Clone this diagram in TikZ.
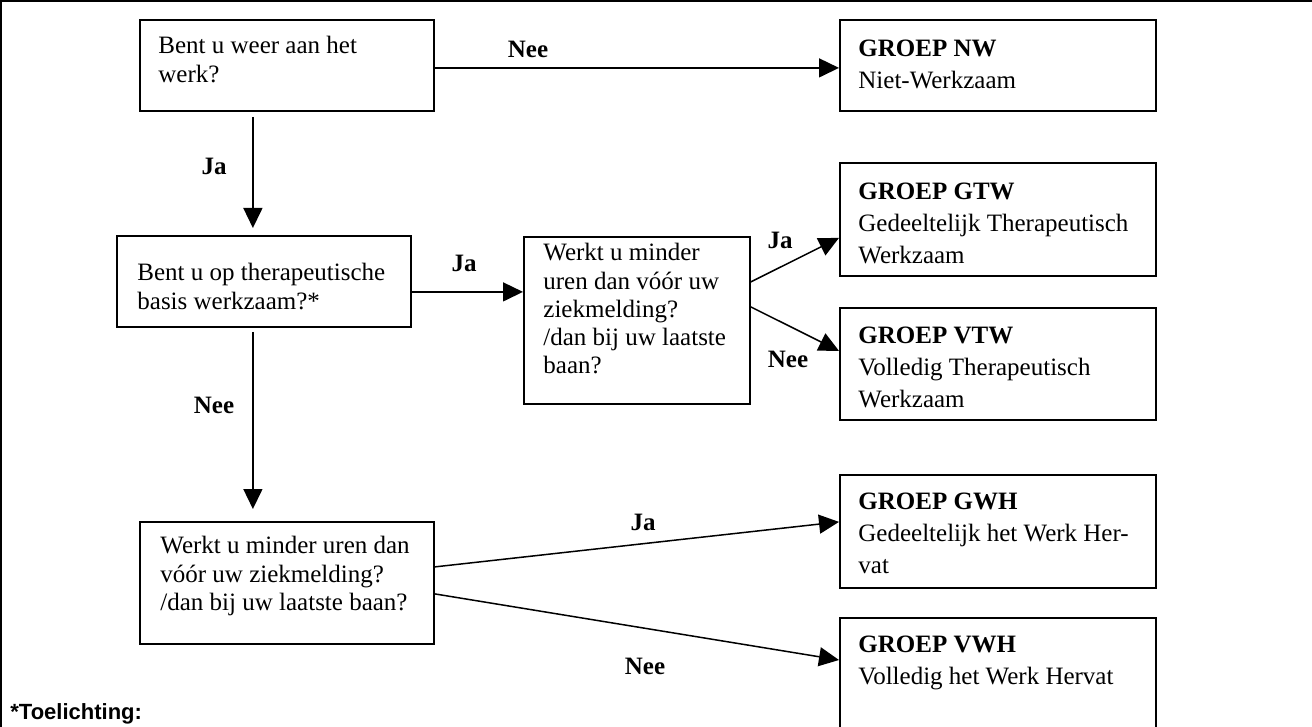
\documentclass[tikz,border=0pt]{standalone}
\usepackage{fontspec}
\setmainfont{Liberation Serif}
\newfontfamily\arialfont{Liberation Sans}
\usetikzlibrary{arrows.meta}
\begin{document}
\begin{tikzpicture}[x=0.5pt,y=-0.5pt,
  box/.style={draw, line width=0.9pt, anchor=north west, inner sep=0pt},
  ltxt/.style={anchor=north west, inner sep=0pt, align=left, font=\fontsize{12.5pt}{14.15pt}\selectfont},
  rtxt/.style={anchor=north west, inner sep=0pt, align=left, font=\fontsize{12.5pt}{15.9pt}\selectfont},
  lbl/.style={inner sep=0pt, font=\fontsize{12.5pt}{14pt}\selectfont\bfseries},
  arr/.style={-{Triangle[length=10pt,width=9.5pt]}, line width=0.75pt}]
\useasboundingbox (0,0) rectangle (1312,727);
\clip (0,0) rectangle (1312,727);
% outer frame (top and left)
\draw[line width=1.1pt] (1,727) -- (1,1) -- (1312,1);

% boxes
\node[box, minimum width=147pt, minimum height=45.5pt] (b1) at (139,19) {};
\node[box, minimum width=158pt, minimum height=45.5pt] (nw) at (839,19) {};
\node[box, minimum width=147pt, minimum height=45.5pt] (b2) at (116,235) {};
\node[box, minimum width=113pt, minimum height=83.5pt] (b3) at (523,236) {};
\node[box, minimum width=158pt, minimum height=56.5pt] (gtw) at (839,162) {};
\node[box, minimum width=158pt, minimum height=56pt] (vtw) at (839,307) {};
\node[box, minimum width=147pt, minimum height=61pt] (b4) at (139,521) {};
\node[box, minimum width=158pt, minimum height=56.5pt] (gwh) at (839,474) {};
\node[box, minimum width=158pt, minimum height=70pt] (vwh) at (839,617) {};

% texts
\node[ltxt] (b1t) at (158,36) {Bent u weer aan het\\werk?};
\node[rtxt] (nwt) at (858,40) {\textbf{GROEP NW}\\Niet-Werkzaam};
\node[ltxt] (b2t) at (137,263) {Bent u op therapeutische\\basis werkzaam?*};
\node[ltxt] (b3t) at (543,243) {Werkt u minder\\uren dan vóór uw\\ziekmelding?\\/dan bij uw laatste\\baan?};
\node[rtxt] (gtwt) at (858,183) {\textbf{GROEP GTW}\\Gedeeltelijk Therapeutisch\\Werkzaam};
\node[rtxt] (vtwt) at (858,327) {\textbf{GROEP VTW}\\Volledig Therapeutisch\\Werkzaam};
\node[ltxt] (b4t) at (160,536) {Werkt u minder uren dan\\vóór uw ziekmelding?\\/dan bij uw laatste baan?};
\node[rtxt] (gwht) at (858,493) {\textbf{GROEP GWH}\\Gedeeltelijk het Werk Her-\\vat};
\node[rtxt] (vwht) at (858,636) {\textbf{GROEP VWH}\\Volledig het Werk Hervat};

% connectors
\draw[arr] ([yshift=-1.25pt]b1.east) -- ([yshift=-1.25pt]b1.east -| nw.west);
\draw[arr, shorten <=2.5pt, shorten >=3.5pt] ([xshift=-17pt]b1.south) -- ([xshift=-17pt]b1.south |- b2.north);
\draw[arr] ([yshift=-5.25pt]b2.east) -- ([yshift=-5.25pt]b2.east -| b3.west);
\draw[arr] ([yshift=19.25pt]b3.east) -- ([yshift=-9.25pt]gtw.west);
\draw[arr] ([yshift=6.75pt]b3.east) -- ([yshift=6.5pt]vtw.west);
\draw[arr, shorten <=2pt, shorten >=6pt] ([xshift=-5.5pt]b2.south) -- ([xshift=-5.5pt]b2.south |- b4.north);
\draw[arr] ([yshift=8pt]b4.east) -- ([yshift=4.75pt]gwh.west);
\draw[arr] ([yshift=-5.5pt]b4.east) -- ([yshift=-21.5pt]vwh.north west);

% labels
\node[lbl] (nee1) at (528,49) {Nee};
\node[lbl] (ja1) at (214,166) {Ja};
\node[lbl] (ja2) at (464,263) {Ja};
\node[lbl] (nee2) at (214,405) {Nee};
\node[lbl] (ja3) at (780,240) {Ja};
\node[lbl] (nee3) at (788,359) {Nee};
\node[lbl] (ja4) at (643,522) {Ja};
\node[lbl] (nee4) at (645,666) {Nee};

\node[anchor=north west, inner sep=0pt, font=\arialfont\bfseries\fontsize{11pt}{13pt}\selectfont] (toel) at (10,703) {*Toelichting:};
\end{tikzpicture}
\end{document}
